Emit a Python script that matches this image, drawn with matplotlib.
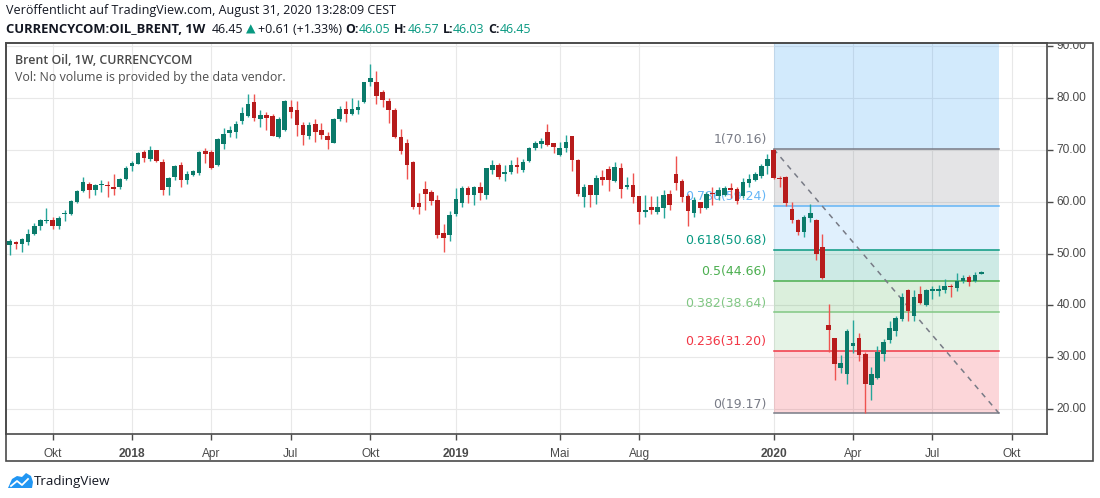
import numpy as np
import matplotlib
matplotlib.use('Agg')
from matplotlib import pyplot as plt
from matplotlib.patches import Rectangle, Polygon
from matplotlib.transforms import Bbox, TransformedBbox

# weekly candles, Brent, 14 Aug 2017 .. 31 Aug 2020
opens = [51.6, 52.3, 51.8, 52.2, 53.8, 55.3, 56.2, 56.5, 55.4, 57.6,
         57.6, 60.0, 62.0, 63.5, 62.3, 63.3, 63.3, 62.9, 62.8, 64.4,
         66.8, 67.3, 69.6, 68.3, 70.0, 67.6, 62.9, 64.8, 67.0, 64.2,
         65.2, 65.6, 69.8, 69.6, 67.0, 71.2, 73.3, 73.4, 75.6, 76.5,
         79.3, 76.0, 76.7, 76.5, 72.5, 73.9, 78.3, 77.7, 74.8, 72.7,
         74.9, 73.8, 72.7, 71.4, 75.9, 77.8, 77.0, 77.6, 79.2, 83.0,
         83.1, 81.2, 79.5, 77.6, 72.4, 71.4, 67.6, 59.7, 62.4, 61.9,
         60.4, 53.9, 53.6, 57.6, 59.7, 62.7, 61.3, 62.8, 61.3, 66.1,
         67.0, 65.4, 65.7, 67.0, 66.1, 67.9, 70.3, 71.2, 73.4, 71.3,
         69.0, 70.4, 72.7, 68.0, 60.9, 63.2, 61.3, 64.7, 66.3, 63.9,
         66.5, 62.8, 63.2, 61.0, 58.0, 58.9, 58.0, 58.8, 61.5, 65.3,
         63.9, 61.1, 57.8, 60.0, 58.7, 61.7, 61.0, 61.3, 62.6, 62.5,
         61.0, 63.6, 64.2, 64.9, 66.8, 69.9, 64.5, 64.8, 58.5, 56.4,
         54.2, 56.8, 56.5, 51.2, 36.3, 33.7, 27.9, 26.7, 32.2, 33.7,
         30.6, 24.6, 25.9, 30.6, 33.3, 35.1, 37.3, 43.0, 37.9, 42.1,
         40.1, 42.8, 42.8, 42.9, 43.7, 43.3, 44.7, 45.4, 44.7, 46.05]
highs = [52.8, 52.4, 53.0, 54.7, 55.9, 56.7, 58.8, 57.1, 57.3, 58.3,
         60.4, 62.2, 64.7, 63.7, 63.5, 64.2, 64.0, 65.3, 64.6, 66.8,
         67.8, 69.6, 69.9, 70.8, 70.0, 68.2, 64.7, 67.0, 67.6, 66.0,
         66.2, 69.7, 70.3, 70.0, 72.2, 74.2, 74.6, 75.6, 78.2, 80.7,
         80.8, 77.6, 77.3, 76.9, 76.4, 79.7, 79.7, 79.5, 75.4, 75.4,
         75.9, 75.1, 73.4, 76.1, 78.4, 79.4, 79.9, 79.7, 83.1, 86.6,
         85.2, 81.6, 80.0, 78.1, 74.1, 72.0, 67.8, 61.6, 63.9, 62.2,
         61.2, 55.7, 58.2, 62.7, 63.0, 63.0, 63.1, 63.8, 66.5, 68.0,
         67.5, 67.0, 68.1, 68.6, 68.2, 70.5, 71.7, 72.2, 75.0, 71.4,
         71.6, 72.9, 72.7, 68.3, 63.4, 63.3, 65.1, 66.1, 66.8, 67.7,
         67.4, 64.8, 65.5, 61.0, 61.2, 61.0, 61.0, 62.2, 62.3, 68.8,
         64.3, 61.4, 60.9, 60.0, 61.9, 62.8, 62.9, 63.1, 63.6, 62.9,
         64.6, 65.4, 65.8, 67.3, 69.2, 70.16, 64.9, 65.0, 59.9, 56.7,
         57.5, 59.6, 56.7, 53.8, 40.2, 33.8, 30.5, 35.4, 37.1, 34.6,
         31.0, 28.1, 32.1, 33.6, 37.0, 37.9, 42.4, 43.1, 42.9, 43.8,
         43.2, 43.7, 44.0, 45.0, 44.2, 46.3, 45.8, 45.8, 46.4, 46.57]
lows = [49.7, 50.8, 50.3, 51.7, 53.5, 54.5, 55.9, 54.8, 54.7, 56.2,
        57.5, 59.7, 61.9, 60.8, 61.2, 61.8, 60.9, 61.3, 62.5, 64.2,
        66.0, 67.2, 67.7, 67.9, 67.7, 61.3, 61.3, 64.1, 62.8, 63.5,
        64.9, 65.1, 67.4, 66.3, 66.9, 70.1, 72.5, 72.2, 74.9, 76.4,
        75.6, 74.4, 73.8, 72.6, 72.2, 73.7, 76.2, 72.6, 71.0, 72.0,
        71.6, 72.1, 70.2, 71.4, 75.6, 75.4, 76.7, 77.0, 79.0, 82.4,
        78.9, 78.2, 75.2, 72.2, 69.1, 64.4, 58.5, 57.7, 58.4, 59.4,
        53.0, 50.3, 52.4, 57.2, 59.0, 59.8, 59.4, 60.4, 60.6, 65.4,
        64.3, 63.9, 65.3, 65.6, 65.7, 67.7, 70.0, 70.3, 70.8, 69.4,
        68.8, 69.5, 65.9, 61.1, 59.0, 59.0, 59.5, 63.2, 62.0, 63.7,
        60.8, 62.5, 59.8, 55.6, 57.1, 57.7, 57.7, 56.8, 58.3, 62.3,
        59.9, 55.3, 57.0, 57.8, 58.5, 59.4, 60.4, 61.0, 60.7, 59.6,
        60.8, 62.9, 63.9, 64.6, 65.3, 64.3, 62.9, 59.2, 55.8, 53.5,
        53.1, 56.0, 48.7, 45.0, 31.0, 25.6, 26.9, 24.8, 30.8, 29.3,
        19.17, 21.8, 25.8, 29.2, 32.8, 34.1, 37.0, 37.0, 37.0, 40.2,
        39.9, 41.3, 41.8, 42.4, 41.7, 42.8, 44.4, 43.8, 44.5, 46.03]
closes = [52.5, 51.8, 52.8, 53.7, 55.4, 56.4, 56.5, 55.3, 56.9, 57.7,
          60.2, 62.0, 63.7, 62.3, 63.3, 63.5, 63.0, 62.5, 64.4, 66.5,
          67.5, 69.4, 68.4, 70.0, 67.8, 62.2, 64.5, 66.9, 64.2, 65.3,
          65.9, 69.6, 69.1, 66.5, 72.1, 73.1, 73.8, 74.9, 77.1, 78.8,
          76.2, 76.7, 76.1, 72.7, 75.9, 79.4, 77.2, 74.8, 72.9, 74.8,
          73.4, 72.9, 71.8, 76.0, 77.8, 76.9, 77.8, 78.2, 83.0, 83.9,
          80.3, 79.6, 77.6, 72.4, 69.7, 67.1, 59.0, 59.0, 61.4, 60.1,
          53.6, 52.9, 57.4, 60.6, 62.6, 61.2, 62.9, 61.7, 66.4, 67.0,
          64.7, 65.8, 67.0, 66.7, 67.7, 70.3, 71.3, 71.7, 71.0, 70.6,
          70.3, 71.5, 68.1, 61.4, 62.8, 61.3, 64.6, 64.2, 64.2, 66.6,
          62.5, 63.2, 60.9, 58.0, 58.3, 58.3, 58.9, 61.2, 59.4, 63.6,
          60.9, 58.2, 60.4, 58.7, 61.5, 61.4, 62.2, 62.6, 62.3, 60.1,
          63.8, 64.4, 65.3, 66.8, 68.3, 64.6, 64.4, 59.7, 56.4, 54.2,
          57.1, 57.9, 49.9, 45.3, 35.3, 28.7, 28.8, 35.0, 32.7, 30.4,
          24.8, 26.7, 31.1, 32.9, 35.6, 37.5, 41.7, 38.9, 41.7, 40.5,
          42.9, 43.2, 43.1, 43.7, 43.5, 44.7, 45.2, 44.5, 45.8, 46.45]

# x axis: bar index of first weekly bar of each labelled month
tick_pos = [7, 20, 33, 46, 59, 73, 90, 103, 125, 138, 151, 164]
tick_labels = ['Okt', '2018', 'Apr', 'Jul', 'Okt', '2019', 'Mai', 'Aug',
               '2020', 'Apr', 'Jul', 'Okt']
year_labels = ['2018', '2019', '2020']
price_ticks = [20, 30, 40, 50, 60, 70, 80, 90]

# fibonacci retracement drawn from the Jan 2020 high to the Apr 2020 low
fib_ratios = ['0', '0.236', '0.382', '0.5', '0.618', '0.786', '1', '1.618']
fib_prices = [19.17, 31.20, 38.64, 44.66, 50.68, 59.24, 70.16, 101.67]
fib_colors = ['#787b86', '#f23645', '#81c784', '#4caf50', '#089981',
              '#64b5f6', '#787b86', '#2196f3']
fib_x = [125, 161.9]

UP_BODY, DOWN_BODY = '#0b7a6a', '#b71c1c'
UP_WICK, DOWN_WICK = '#26a69a', '#ef5350'
FRAME = '#4a4a4a'
TXT = '#131722'

W, H = 1100, 498
fig = plt.figure(figsize=(W / 100, H / 100), dpi=100)
fig.patch.set_facecolor('white')

# pixel-space overlay for header / footer
hax = fig.add_axes([0, 0, 1, 1])
hax.set_xlim(0, W)
hax.set_ylim(H, 0)
hax.axis('off')
hax.patch.set_visible(False)

left, right, top, bottom = 6.3, 1047.3, 43, 434
ax = fig.add_axes([left / W, 1 - bottom / H, (right - left) / W, (bottom - top) / H])
ax.set_xlim(-0.57, 169.8)
ax.set_ylim(15.19, 90.6)

# frame round chart + axes
fig.add_artist(Rectangle((left / W, 1 - 461 / H), (1093.3 - left) / W, (461 - top) / H,
                         transform=fig.transFigure, fill=False, ec=FRAME, lw=1.2))
for s in ax.spines.values():
    s.set_color(FRAME)
    s.set_linewidth(1.2)

ax.set_xticks(tick_pos)
ax.set_xticklabels(tick_labels)
ax.set_yticks(price_ticks)
ax.yaxis.tick_right()
ax.tick_params(axis='both', colors=FRAME, length=4, width=1, labelcolor='#4a4a4a',
               labelsize=8.6)
ax.tick_params(axis='x', pad=6)
ax.tick_params(axis='y', labelright=False)
for lab in ax.get_xticklabels():
    lab.set_family('Liberation Sans')
    if lab.get_text() in year_labels:
        lab.set_fontweight('bold')

# price labels; the top one is cut by the top of the pane
clip = TransformedBbox(Bbox([[0, 0], [1, 1 - (top + 1) / H]]), fig.transFigure)
for p in price_ticks:
    t = ax.annotate('%.2f' % p, xy=(1, p), xycoords=('axes fraction', 'data'),
                    xytext=(6.5, 0), textcoords='offset points', va='center', ha='left',
                    fontsize=8.6, family='Liberation Sans', color='#4a4a4a',
                    annotation_clip=False)
    t.set_clip_box(clip)
    t.set_clip_on(True)

ax.grid(True, color='#e8e8e8', lw=0.8, zorder=0)
ax.set_axisbelow(True)

# fib zones, lines, labels
for k in range(1, len(fib_prices)):
    ax.fill_between(fib_x, fib_prices[k - 1], fib_prices[k], color=fib_colors[k],
                    alpha=0.2, lw=0, zorder=1)
for k in range(len(fib_prices) - 1):
    ax.plot(fib_x, [fib_prices[k]] * 2, color=fib_colors[k], lw=1.1, zorder=2)
    ax.annotate('%s(%.2f)' % (fib_ratios[k], fib_prices[k]), (fib_x[0], fib_prices[k]),
                xytext=(-5, 2), textcoords='offset points', ha='right', va='bottom',
                color=fib_colors[k], fontsize=9, family='DejaVu Sans', zorder=2)
ax.plot(fib_x, [fib_prices[-2], fib_prices[0]], color='#787b86', lw=1.1,
        dashes=(3.5, 3.5), zorder=3)

# candles
o, h, l, c = (np.array(v) for v in (opens, highs, lows, closes))
idx = np.arange(len(o))
up = c >= o
ax.vlines(idx, l, h, colors=np.where(up, UP_WICK, DOWN_WICK), lw=1.0, zorder=4)
ax.bar(idx, np.maximum(np.abs(c - o), 0.15), bottom=np.minimum(o, c), width=0.75,
       color=np.where(up, UP_BODY, DOWN_BODY), lw=0, zorder=5)

# legend inside pane
ax.text(15, 60, 'Brent Oil, 1W, CURRENCYCOM', transform=hax.transData, va='center',
        fontsize=8.9, family='Open Sans', fontweight='semibold', color='#4a4a4a')
ax.text(15, 77, 'Vol: No volume is provided by the data vendor.', transform=hax.transData,
        va='center', fontsize=8.9, family='Open Sans', color='#4f4f4f')

# header
FS = 8.9
hax.text(6, 10, 'Veröffentlicht auf TradingView.com, August 31, 2020 13:28:09 CEST',
         va='center', fontsize=9.0, family='Open Sans', color=TXT)
teal = '#089981'
pieces = [('CURRENCYCOM:OIL_BRENT, 1W', 'bold', TXT, 0),
          ('46.45', 'normal', TXT, 4.5),
          ('\u25b2', 'normal', teal, 2),
          ('+0.61 (+1.33%)', 'normal', TXT, 2),
          ('O:', 'bold', TXT, 2.5), ('46.05', 'normal', teal, 0),
          ('H:', 'bold', TXT, 2.5), ('46.57', 'normal', teal, 0),
          ('L:', 'bold', TXT, 2.5), ('46.03', 'normal', teal, 0),
          ('C:', 'bold', TXT, 2.5), ('46.45', 'normal', teal, 0)]
prev = hax.text(6, 36, pieces[0][0], va='bottom', fontsize=9.4, fontweight='bold',
                family=['Open Sans', 'DejaVu Sans'], color=TXT)
for txt, wt, col, gap in pieces[1:]:
    prev = hax.annotate(txt, xy=(1, 0), xycoords=prev, xytext=(gap, 0),
                        textcoords='offset points', va='bottom', ha='left',
                        fontsize=FS, fontweight=wt, color=col,
                        family=['Open Sans', 'DejaVu Sans'])

# footer logo
hax.add_patch(Polygon([(8, 488), (12, 479), (17, 476), (22, 477), (26, 473), (31, 476),
                       (33, 482), (32, 488)], closed=True, fc='#2196f3', ec='none'))
hax.plot([11, 17, 22, 28], [486, 481, 485, 479], color='white', lw=1.3)
hax.text(34, 481, 'TradingView', va='center', fontsize=9.6, family='Open Sans',
         color=TXT)

fig.savefig('out.png', dpi=100)
